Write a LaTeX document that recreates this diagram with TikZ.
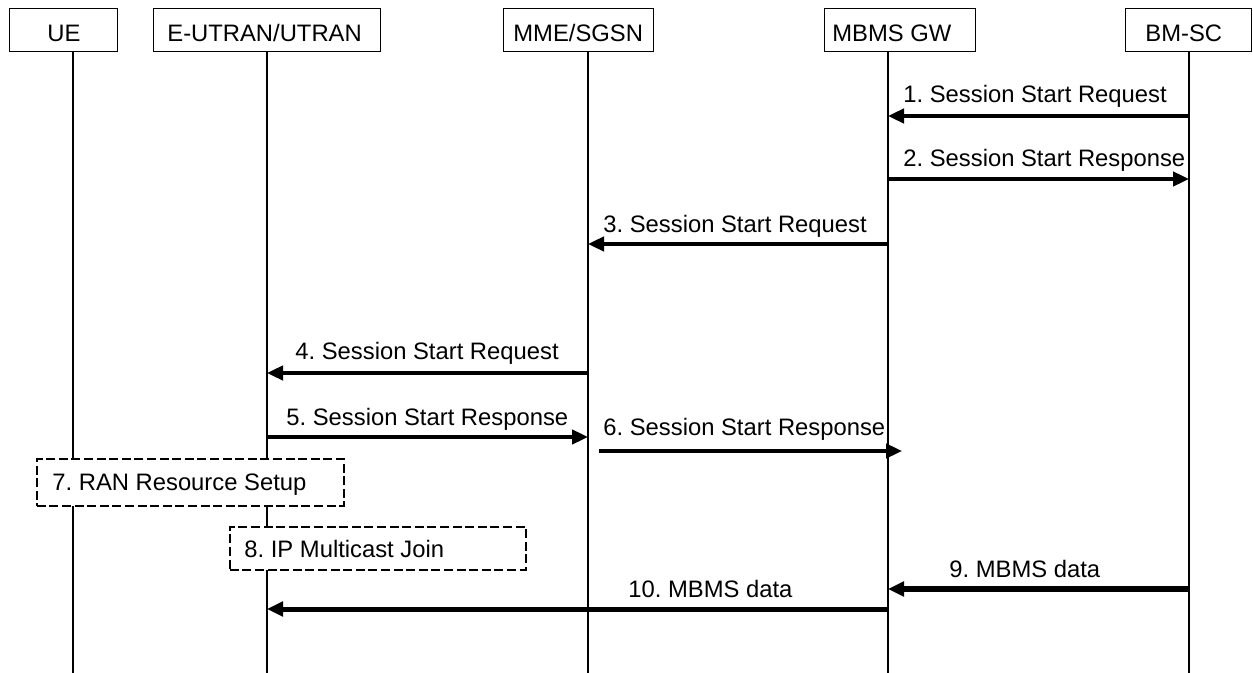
\documentclass[tikz,border=0pt]{standalone}
\usepackage{fontspec}
\setmainfont{Liberation Sans}
\usetikzlibrary{arrows.meta}
\frenchspacing
\begin{document}
\begin{tikzpicture}[x=0.5pt,y=-0.5pt,
  every node/.style={font=\fontsize{11.9pt}{14pt}\selectfont},
  partbox/.style={draw, line width=0.7pt, minimum height=21.5pt, inner sep=0pt, anchor=north west},
  lifeline/.style={line width=0.7pt},
  msg/.style={line width=1.6pt, -{Triangle[length=8pt,width=7.2pt]}},
  bigmsg/.style={line width=3pt, -{Triangle[length=8pt,width=7.2pt]}},
  midmsg/.style={line width=2.5pt, -{Triangle[length=8pt,width=7.2pt]}},
  lbl/.style={anchor=base west, inner sep=0pt},
  actbox/.style={draw, fill=white, line width=0.8pt, dash pattern=on 4.5pt off 1.8pt, inner sep=0pt, anchor=north west}
]
\useasboundingbox (0,0) rectangle (1253,673);
% lifeline ends
\coordinate (ueT) at (73,51);   \coordinate (ueB) at (73,673);
\coordinate (ranT) at (267,51); \coordinate (ranB) at (267,673);
\coordinate (mmeT) at (588,51); \coordinate (mmeB) at (588,673);
\coordinate (gwT) at (888,51);  \coordinate (gwB) at (888,673);
\coordinate (bmT) at (1189,51); \coordinate (bmB) at (1189,673);
\draw[lifeline] (ueT) -- (ueB);
\draw[lifeline] (ranT) -- (ranB);
\draw[lifeline] (mmeT) -- (mmeB);
\draw[lifeline] (gwT) -- (gwB);
\draw[lifeline] (bmT) -- (bmB);
% participant boxes
\node[partbox, minimum width=54pt] (ue) at (9,8) {};
\node[partbox, minimum width=113.5pt] (ran) at (153,8) {};
\node[partbox, minimum width=75pt] (mme) at (503,8) {};
\node[partbox, minimum width=75.5pt] (gw) at (824,8) {};
\node[partbox, minimum width=63pt] (bm) at (1125,8) {};
\node[lbl] (ueL) at (47,42) {UE};
\node[lbl] (ranL) at (167,42) {E-UTRAN/UTRAN};
\node[lbl] (mmeL) at (513,42) {MME/SGSN};
\node[lbl] (gwL) at (832,42) {MBMS GW};
\node[lbl] (bmL) at (1145,42) {BM-SC};
% messages
\node[lbl] (l1) at (903,103) {1. Session Start Request};
\draw[msg] (bmT |- 0,116) -- (gwT |- 0,116);
\node[lbl] (l2) at (903,167) {2. Session Start Response};
\draw[msg] (gwT |- 0,179) -- (bmT |- 0,179);
\node[lbl] (l3) at (603,233) {3. Session Start Request};
\draw[msg] (gwT |- 0,244) -- (mmeT |- 0,244);
\node[lbl] (l4) at (295,360) {4. Session Start Request};
\draw[msg] (mmeT |- 0,373) -- (ranT |- 0,373);
\node[lbl] (l5) at (286,426) {5. Session Start Response};
\draw[msg] (ranT |- 0,437) -- (mmeT |- 0,437);
\coordinate (m6s) at (599,451);
\coordinate (m6e) at (902,451);
\node[lbl] (l6) at (603,436) {6. Session Start Response};
\draw[msg] (m6s) -- (m6e);
% procedure boxes
\node[actbox, minimum width=153.5pt, minimum height=23.5pt] (rrs) at (36,458) {};
\node[lbl] (l7) at (52,491) {7. RAN Resource Setup};
\node[actbox, minimum width=148pt, minimum height=21.5pt] (ipj) at (229,526) {};
\node[lbl] (l8) at (244,557) {8. IP Multicast Join};
% data
\node[lbl] (l9) at (949,577) {9. MBMS data};
\draw[bigmsg] (bmT |- 0,589) -- (gwT |- 0,589);
\node[lbl] (l10) at (628,597) {10. MBMS data};
\draw[midmsg] (gwT |- 0,609) -- (ranT |- 0,609);
\end{tikzpicture}
\end{document}
